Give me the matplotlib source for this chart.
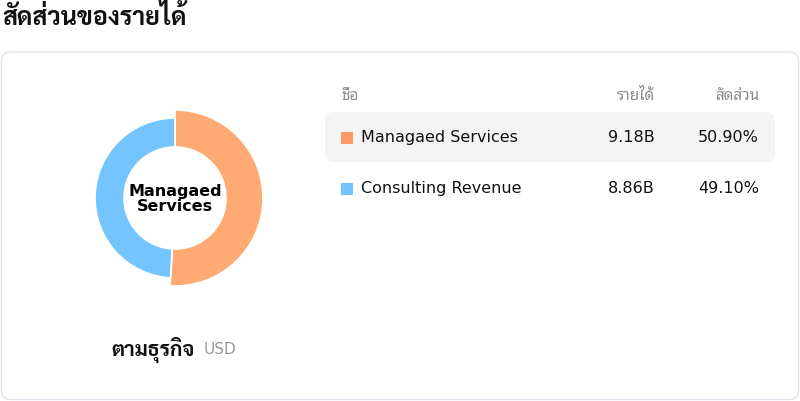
import matplotlib
matplotlib.use("Agg")
import matplotlib.pyplot as plt
from matplotlib.patches import Wedge, FancyBboxPatch

# data
segments = ["Managaed Services", "Consulting Revenue"]
revenue = [9.18, 8.86]          # billions USD
shares = [50.90, 49.10]         # percent
donut_colors = ["#ffaa72", "#74c4ff"]
legend_colors = ["#fd9a66", "#74c4ff"]
highlight = 0                   # segment shown in the middle of the donut

title = "สัดส่วนของรายได้"
col_headers = ["ชื่อ", "รายได้", "สัดส่วน"]
footer = "ตามธุรกิจ"
unit = "USD"

plt.rcParams['font.family'] = ['DejaVu Sans', 'Noto Sans Thai Looped']
thai_bold = ['DejaVu Sans', 'Sarabun']

W, H = 800, 402
fig = plt.figure(figsize=(W / 100, H / 100), dpi=100)

# base axes in pixel units (y down)
ax = fig.add_axes([0, 0, 1, 1])
ax.set_xlim(0, W)
ax.set_ylim(H, 0)
ax.axis('off')

# title and card
ax.text(2, 17, title, fontsize=18, fontweight='bold', family=thai_bold,
        va='center', ha='left', color='#111111')
ax.add_patch(FancyBboxPatch((1.5, 53), 797, 347.5, boxstyle="round,pad=0,rounding_size=9",
                            facecolor='white', edgecolor='#e2e2ec', linewidth=1))

# table header
gray = '#8c8c8c'
ax.text(341, 95, col_headers[0], fontsize=11, color=gray, va='center', ha='left')
ax.text(655, 95, col_headers[1], fontsize=11, color=gray, va='center', ha='right')
ax.text(759, 95, col_headers[2], fontsize=11, color=gray, va='center', ha='right')

# rows
row_y = [138, 189]
for i, name in enumerate(segments):
    y = row_y[i]
    if i == highlight:
        ax.add_patch(FancyBboxPatch((325, y - 25), 450, 50, boxstyle="round,pad=0,rounding_size=9",
                                    facecolor='#f4f4f4', edgecolor='none'))
    ax.add_patch(plt.Rectangle((341, y - 5.5), 12, 12, facecolor=legend_colors[i], edgecolor='none'))
    ax.text(361, y, name, fontsize=11.5, color='#111111', va='center', ha='left')
    ax.text(655, y, f"{revenue[i]:.2f}B", fontsize=11.5, color='#111111', va='center', ha='right')
    ax.text(759, y, f"{shares[i]:.2f}%", fontsize=11.5, color='#111111', va='center', ha='right')

# footer under donut
ax.text(195, 350, footer, fontsize=15, fontweight='bold', family=thai_bold,
        color='#111111', va='center', ha='right')
ax.text(204, 350, unit, fontsize=11, color='#999999', va='center', ha='left')

# donut axes, centred at (175, 199) px, 1 unit = 1 px
cx, cy, half = 175, 199, 100
dax = fig.add_axes([(cx - half) / W, (H - cy - half) / H, 2 * half / W, 2 * half / H])
dax.set_xlim(-half, half)
dax.set_ylim(-half, half)
dax.axis('off')
dax.patch.set_alpha(0)

r_in, r_out, r_hi = 51, 80, 88
start = 90.0
total = sum(revenue)
for i, v in enumerate(revenue):
    sweep = 360.0 * v / total
    r = r_hi if i == highlight else r_out
    dax.add_patch(Wedge((0, 0), r, start - sweep, start, width=r - r_in,
                        facecolor=donut_colors[i], edgecolor='white', linewidth=1.2))
    start -= sweep

dax.text(0, 0, segments[highlight].replace(" ", "\n"), fontsize=11.5, fontweight='bold',
         ha='center', va='center', linespacing=1.0, color='black')

fig.savefig("out.png", dpi=100)
